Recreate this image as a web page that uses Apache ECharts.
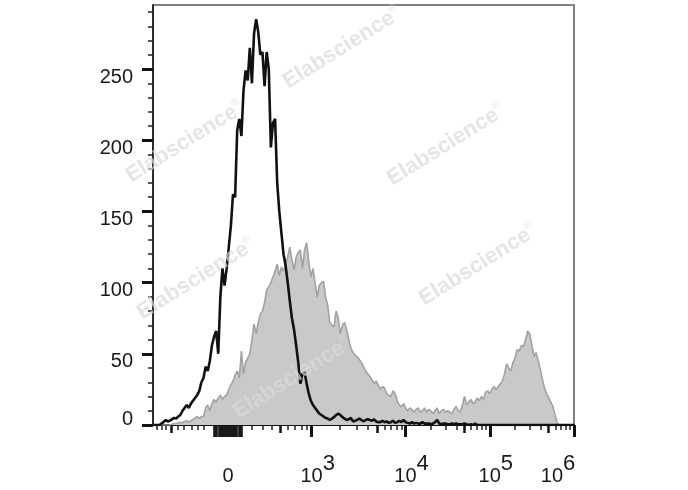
<!DOCTYPE html>
<html><head><meta charset="utf-8">
<script src="https://cdn.jsdelivr.net/npm/echarts@6/dist/echarts.min.js"></script>
<style>html,body{margin:0;padding:0;background:#fff}#c{width:688px;height:490px}</style>
</head><body><div id="c"></div>
<script>
// Histogram bins in display-channel units (0..1000 across the logicle axis)
const binStart = 0;
const binWidth = 5;

// Unstained / control (black line)
const controlCounts = [
  0,0,0,0,1,2,3.5,2.5,3,4,
  5,4.5,6,7,10,12,14,12,15,17,
  19,21,24,30,33,41,38,45,56,62,
  66,50,90,110,98,110,125,140,162,160,
  207,215,203,235,249,242,265,240,275,285,
  276,260,262,238,262,250,195,212,215,170,
  150,135,120,112,100,87,75,67,56,44,
  29,36,37,29,22,17,14,12,10,8,
  7,6,5,4.5,3.5,4.5,5.5,7,8,7,
  5.5,4.5,3.5,4,5,2.5,3,3.5,4.5,3.5,
  2.5,3.5,4,3.5,3,4,2.5,2,2,3,
  2,2.5,1.5,2,3,1.5,2,3,2,3.5,
  2,1.5,1,2,1,1.5,1,1,2,1,
  1,1,0.5,1,2,3.5,1,0.5,1,1,
  0.5,0.5,1,0.5,1,0.5,0.5,0.5,1,0.5,
  0,0.5,0,1,0,
  0,0,0,0,0,0,0,0,0,0,
  0,0,0,0,0,0,0,0,0,0,
  0,0,0,0,0,0,0,0,0,0,
  0,0,0,0,0,0,0,0,0,0,
  0,0,0,0,0,0
];

// Stained sample (grey filled)
const stainedCounts = [
  0,0,0,0,0,0,0,0,0,0.5,
  1,1,1.5,2,1.5,2.5,3,2,3,4,
  5,6,4.5,6,6,12,14,10,15,18,
  16,19,21,18,20,21,25,28,31,35,
  38,33,52,36,44,47,50,60,71,64,
  72,78,80,86,95,97,100,104,108,113,
  105,111,108,113,118,125,116,109,118,121,
  123,110,123,128,115,104,110,100,90,98,
  100,101,90,84,72,70,69,80,75,64,
  70,72,67,60,54,51,49,48,46,44,
  41,38,36,34,32,29,31,28,25,27,
  26,22,21,20,24,22,17,14,13,15,
  12,10,12,11,9,11,12,9,10,12,
  9,11,10,8,10,12,8,10,11,9,
  10,9,8,11,13,10,9,14,20,14,
  16,18,15,16,19,17,20,18,23,24,
  22,25,27,25,27,29,31,36,43,40,
  38,44,47,53,52,56,55,60,66,64,
  56,48,51,45,39,32,26,22,19,16,
  13,7,1.5,
  0,0,0,0,0,0,0,0
];

// Y axis ticks
const yMajorTicks = [0, 50, 100, 150, 200, 250];
const yMinorTicks = [10,20,30,40,60,70,80,90,110,120,130,140,160,170,180,190,210,220,230,240,260,270,280,290];

// X axis (logicle) ticks in channel units
const xLabelPositions = [178, 377, 600, 800, 1000];
const xLabelBase = ['0', '10', '10', '10', '10'];
const xLabelExp = ['', '3', '4', '5', '6'];
const xMajorTicks = [377, 600, 800, 1000];
const xMediumTicks = [42.8, 301.7, 533, 739.8, 939.8];
const xMinorTicks = [8.8, 20.7, 30.9, 58.7, 73.6, 91.9, 106.9, 121.1,
  234.4, 260.6, 282, 320.7, 337.3, 353.2, 365.1,
  444, 483.4, 511, 550.5, 565.5, 578.4, 589.8,
  660.2, 695.4, 720.4, 755.6, 769, 780.6, 790.8,
  860.2, 895.4, 920.4, 955.6, 969, 980.6, 990.8];
const xZeroTicks = [145,147.5,150,152.5,155,157.5,160,162.5,165,167.5,170,172.5,175,177.5,180,182.5,185,187.5,190,192.5,195,197.5,200,202.5,205,207.5,210];

const FONT = 'Liberation Sans, Arial, Helvetica, sans-serif';
const INK = '#1a1a1a';

function toPairs(arr) { return arr.map((v, i) => [binStart + i * binWidth, v]); }

const chart = echarts.init(document.getElementById('c'), null, {renderer: 'canvas'});

const xBase = {type: 'value', min: 0, max: 1000, position: 'bottom', gridIndex: 0,
  splitLine: {show: false}, axisLine: {show: false}, axisLabel: {show: false}};
const yBase = {type: 'value', min: 0, max: 295, position: 'left', gridIndex: 0,
  splitLine: {show: false}, axisLine: {show: false}, axisLabel: {show: false}};

const marks = [[342, 48], [185, 142], [446, 145], [196, 279], [478, 265], [292, 378]];

chart.setOption({
  animation: false,
  backgroundColor: '#fff',
  grid: {left: 153, top: 5, right: 114, bottom: 65, show: true, borderColor: '#808080', borderWidth: 2, outerBoundsMode: 'none'},
  xAxis: [
    Object.assign({}, xBase, {
      axisLine: {show: true, onZero: false, lineStyle: {color: '#111', width: 2}},
      axisTick: {show: true, customValues: xMajorTicks, length: 12, lineStyle: {color: '#111', width: 3}},
      axisLabel: {show: true, customValues: xLabelPositions, margin: 39, color: INK, fontFamily: FONT, fontSize: 20,
        formatter: function (v) {
          const i = xLabelPositions.indexOf(v);
          if (i < 0) return '';
          if (!xLabelExp[i]) return '{z|' + xLabelBase[i] + '}';
          if (i === xLabelPositions.length - 1) return '{b|' + xLabelBase[i] + '}{sl|' + xLabelExp[i] + '}';
          return '{bp|' + xLabelBase[i] + '}{s|' + xLabelExp[i] + '}';
        },
        rich: {
          z: {fontFamily: FONT, fontSize: 20, color: INK, lineHeight: 24, padding: [12, 0, 12, 0]},
          b: {fontFamily: FONT, fontSize: 20, color: INK, lineHeight: 24},
          bp: {fontFamily: FONT, fontSize: 20, color: INK, lineHeight: 24, padding: [0, 0, 0, 12]},
          s: {fontFamily: FONT, fontSize: 22, color: INK, lineHeight: 24, padding: [0, 0, 24, 0]},
          sl: {fontFamily: FONT, fontSize: 22, color: INK, lineHeight: 24, padding: [0, 32, 24, 0]}
        }
      }
    }),
    Object.assign({}, xBase, {axisTick: {show: true, customValues: xMediumTicks, length: 8, lineStyle: {color: '#111', width: 2.5}}}),
    Object.assign({}, xBase, {axisTick: {show: true, customValues: xMinorTicks, length: 5, lineStyle: {color: '#222', width: 1.5}}}),
    Object.assign({}, xBase, {axisTick: {show: true, customValues: xZeroTicks, length: 12, lineStyle: {color: '#111', width: 1.6}}})
  ],
  yAxis: [
    Object.assign({}, yBase, {
      axisLine: {show: true, onZero: false, lineStyle: {color: '#111', width: 1.5}},
      axisTick: {show: true, customValues: yMajorTicks, length: 11, lineStyle: {color: '#111', width: 3}},
      axisLabel: {show: true, customValues: yMajorTicks, margin: 20, color: INK, fontFamily: FONT, fontSize: 20,
        formatter: function (v) { return v === 0 ? '{z|0}' : '{n|' + v + '}'; },
        rich: {
          n: {fontFamily: FONT, fontSize: 20, color: INK, padding: [16, 0, 0, 0]},
          z: {fontFamily: FONT, fontSize: 20, color: INK, padding: [0, 0, 12, 0]}
        }
      }
    }),
    Object.assign({}, yBase, {axisTick: {show: true, customValues: yMinorTicks, length: 5, lineStyle: {color: '#222', width: 1.5}}})
  ],
  series: [
    {type: 'line', xAxisIndex: 0, yAxisIndex: 0, data: toPairs(stainedCounts), symbol: 'none', silent: true, z: 2,
      lineStyle: {color: '#a2a2a2', width: 1.6}, areaStyle: {color: '#c9c9c9', opacity: 1}},
    {type: 'line', xAxisIndex: 0, yAxisIndex: 0, data: toPairs(controlCounts), symbol: 'none', silent: true, z: 3,
      lineStyle: {color: '#111', width: 2.6}}
  ],
  graphic: marks.map(function (p) {
    return {type: 'text', x: p[0], y: p[1], rotation: 32 * Math.PI / 180, silent: true, z: 100,
      style: {text: '{a|Elabscience}{r|®}', align: 'center', verticalAlign: 'middle',
        rich: {a: {font: 'bold 22px ' + FONT, fill: 'rgba(218,218,218,0.7)'},
               r: {font: '10px ' + FONT, fill: 'rgba(218,218,218,0.7)', padding: [0, 0, 14, 0]}}}};
  })
});
</script>
</body></html>
